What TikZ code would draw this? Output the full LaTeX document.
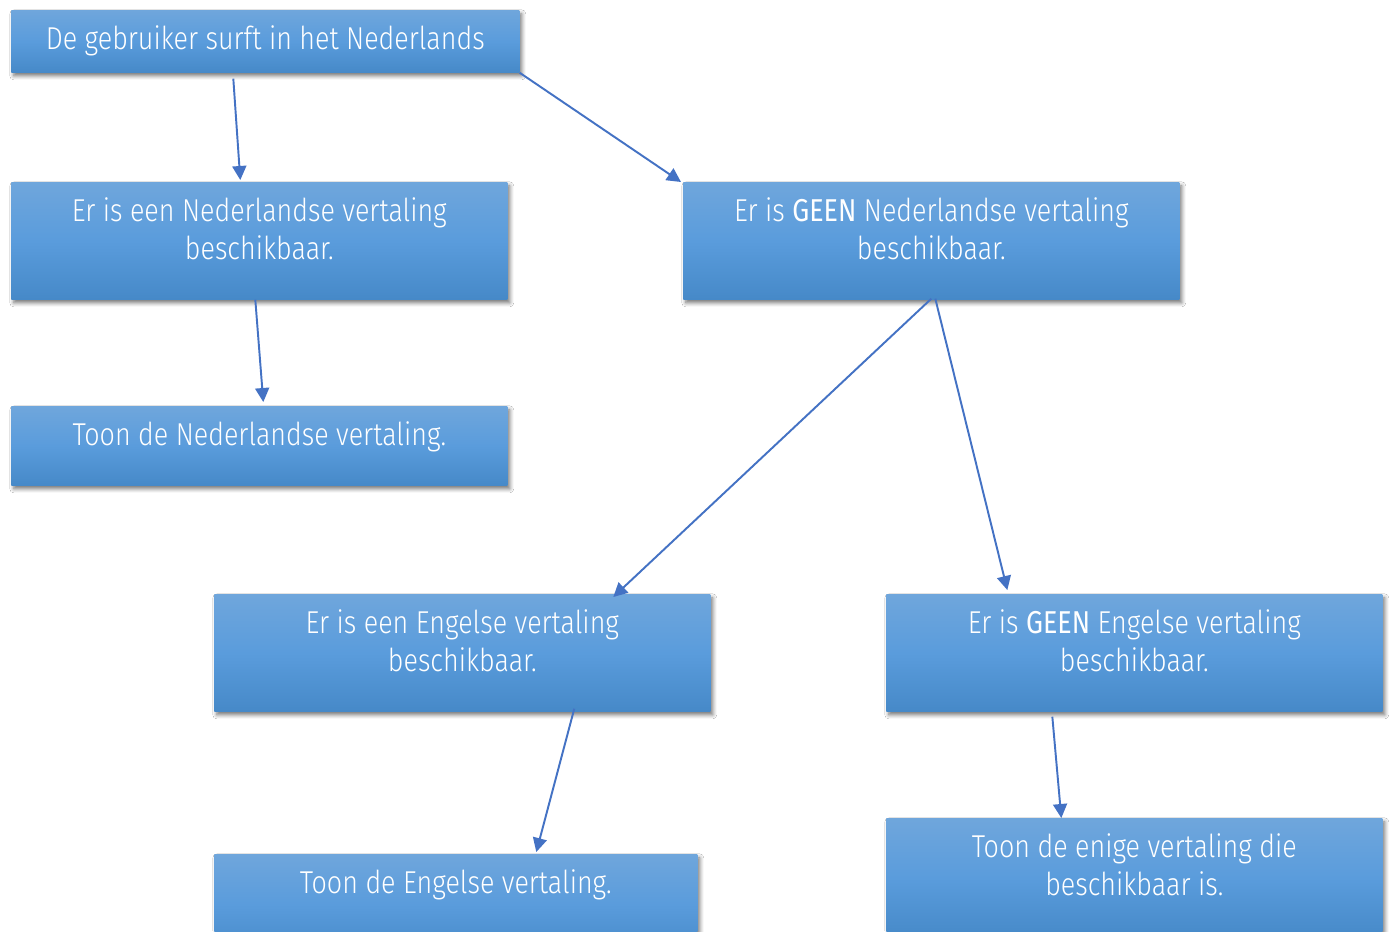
\documentclass[tikz,border=0pt]{standalone}
\usepackage{fontspec}
\setmainfont{Fira Sans Light}[BoldFont={Fira Sans}, FakeStretch=0.85]
\usepackage{xcolor}
\usepackage{tikz}
\usetikzlibrary{arrows.meta,calc,shadows.blur}
\definecolor{BoxTop}{HTML}{6FA6DC}
\definecolor{BoxMid}{HTML}{5A9CDC}
\definecolor{BoxBot}{HTML}{4689C8}
\definecolor{ArrowBlue}{HTML}{4472C4}

% text inside a box, set from the top
\newcommand{\boxtext}[3]{\parbox[t][#2][t]{#1}{\centering\vspace*{0.3cm}#3}}

\begin{document}
\begin{tikzpicture}[
  x=0.02cm,y=-0.02cm,
  flowbox/.style={anchor=north west,inner sep=0pt,top color=BoxTop,bottom color=BoxBot,middle color=BoxMid,
    blur shadow={shadow xshift=0.05cm,shadow yshift=-0.07cm,shadow blur radius=0.08cm,shadow blur steps=6,shadow opacity=55},
    text=white,font=\fontsize{18}{21.6}\selectfont},
  arr/.style={-{Triangle[length=0.28cm,width=0.28cm]},draw=ArrowBlue,line width=1.1pt}
]
\fill[white] (0,0) rectangle (1391,931);
\useasboundingbox (0,0) rectangle (1391,931);

\node[flowbox] (start) at (11,10) {\boxtext{10.16cm}{1.24cm}{De gebruiker surft in het Nederlands}};
\node[flowbox] (nlyes) at (11,182) {\boxtext{9.92cm}{2.34cm}{Er is een Nederlandse vertaling\\beschikbaar.}};
\node[flowbox] (nlno) at (683,182) {\boxtext{9.92cm}{2.34cm}{Er is \textbf{GEEN} Nederlandse vertaling\\beschikbaar.}};
\node[flowbox] (nlshow) at (11,406) {\boxtext{9.92cm}{1.58cm}{Toon de Nederlandse vertaling.}};
\node[flowbox] (enyes) at (214,594) {\boxtext{9.92cm}{2.34cm}{Er is een Engelse vertaling\\beschikbaar.}};
\node[flowbox] (enno) at (886,594) {\boxtext{9.92cm}{2.34cm}{Er is \textbf{GEEN} Engelse vertaling\\beschikbaar.}};
\node[flowbox] (enshow) at (214,854) {\boxtext{9.66cm}{2.0cm}{Toon de Engelse vertaling.}};
\node[flowbox] (only) at (886,818) {\boxtext{9.92cm}{2.4cm}{Toon de enige vertaling die\\beschikbaar is.}};

\draw[arr] ([xshift=-0.64cm,yshift=-0.12cm]start.south) -- ([xshift=-0.38cm,yshift=0.04cm]nlyes.north);
\draw[arr] (start.south east) -- ([xshift=-0.04cm]nlno.north west);
\draw[arr] ([xshift=-0.08cm]nlyes.south) -- ([xshift=0.08cm,yshift=0.08cm]nlshow.north);
\draw[arr] ([yshift=0.02cm]nlno.south) -- ([xshift=3.02cm,yshift=-0.06cm]enyes.north);
\draw[arr] ([xshift=0.08cm,yshift=0.02cm]nlno.south) -- ([xshift=-2.54cm,yshift=0.08cm]enno.north);
\draw[arr] ([xshift=2.24cm,yshift=0.06cm]enyes.south) -- ([xshift=1.61cm,yshift=0.04cm]enshow.north);
\draw[arr] ([xshift=-1.64cm,yshift=-0.1cm]enno.south) -- ([xshift=-1.46cm]only.north);
\end{tikzpicture}
\end{document}
